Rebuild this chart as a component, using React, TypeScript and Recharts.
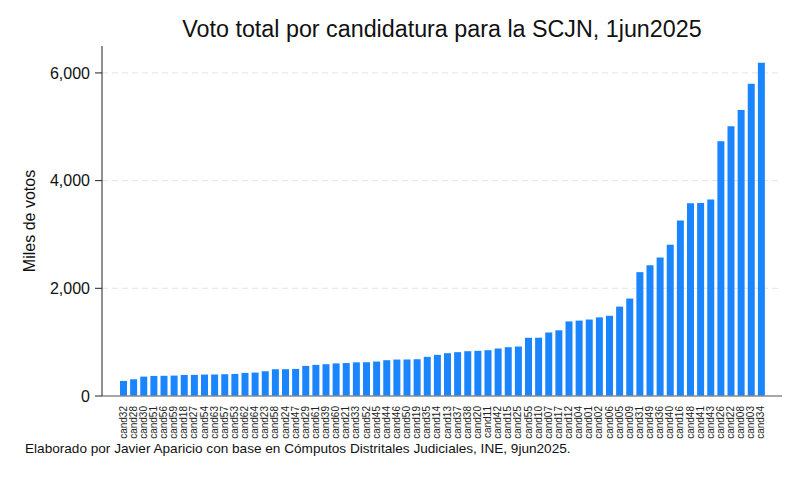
import React from 'react';
import { BarChart, Bar, XAxis, YAxis, CartesianGrid } from 'recharts';

const categories = ['cand32','cand28','cand30','cand51','cand56','cand59','cand18','cand27','cand54','cand63','cand57','cand53','cand62','cand64','cand23','cand58','cand24','cand47','cand29','cand61','cand39','cand60','cand21','cand33','cand52','cand45','cand44','cand46','cand50','cand19','cand35','cand14','cand13','cand37','cand38','cand20','cand11','cand42','cand15','cand25','cand55','cand10','cand07','cand17','cand12','cand04','cand01','cand02','cand06','cand05','cand09','cand31','cand49','cand36','cand40','cand16','cand48','cand41','cand43','cand26','cand22','cand08','cand03','cand34'];

const votes = [280,311,360,373,375,379,391,392,398,399,404,410,429,435,460,497,498,503,559,578,590,605,612,625,627,640,665,677,678,683,727,764,795,814,832,839,851,882,907,919,1081,1083,1180,1220,1385,1400,1420,1460,1490,1660,1810,2300,2430,2570,2810,3260,3580,3585,3650,4730,5010,5310,5800,6190];

const yTicks = [0, 2000, 4000, 6000];

const title = 'Voto total por candidatura para la SCJN, 1jun2025';
const yLabel = 'Miles de votos';
const note = 'Elaborado por Javier Aparicio con base en Cómputos Distritales Judiciales, INE, 9jun2025.';

const data = categories.map((c, i) => ({ name: c, value: votes[i] }));

const font = 'Arial, "Liberation Sans", sans-serif';

const XTick = (props: any) => {
  const { x, y, payload } = props;
  return (
    <text
      x={x}
      y={y}
      transform={`rotate(-90 ${x} ${y})`}
      textAnchor="end"
      dominantBaseline="central"
      fontSize={10}
      fontFamily={font}
      fill="#222"
    >
      {payload.value}
    </text>
  );
};

const YLabel = () => (
  <text
    x={35}
    y={221}
    transform="rotate(-90 35 221)"
    textAnchor="middle"
    fontSize={16}
    fontFamily={font}
    fill="#111"
  >
    {yLabel}
  </text>
);

export default function App() {
  return (
    <div style={{ position: 'absolute', left: 0, top: 0, width: 800, height: 480, background: '#fff' }}>
      <div
        style={{
          position: 'absolute',
          left: 102,
          width: 680,
          top: 14,
          textAlign: 'center',
          fontFamily: font,
          fontSize: 23.3,
          color: '#111',
          lineHeight: '30px',
          whiteSpace: 'nowrap',
        }}
      >
        {title}
      </div>
      <BarChart
        width={800}
        height={480}
        data={data}
        margin={{ top: 46, right: 18, left: 0, bottom: 34 }}
      >
        <CartesianGrid
          vertical={false}
          stroke="#e4e4e4"
          strokeDasharray="6 4"
          horizontalValues={[2000, 4000, 6000]}
        />
        <XAxis
          dataKey="name"
          interval={0}
          height={50}
          tickLine={false}
          axisLine={{ stroke: '#8a8a8a', strokeWidth: 1.5 }}
          tick={<XTick />}
          tickMargin={4}
          padding={{ left: 16, right: 16 }}
        />
        <YAxis
          width={102}
          domain={[0, 6500]}
          ticks={yTicks}
          tickFormatter={(v: number) => v.toLocaleString('en-US')}
          tick={{ fontSize: 16, fontFamily: font, fill: '#111' }}
          tickSize={7}
          tickMargin={5}
          tickLine={{ stroke: '#222' }}
          axisLine={{ stroke: '#222', strokeWidth: 1 }}
          label={{ content: <YLabel /> }}
        />
        <Bar dataKey="value" fill="#1a85ff" barSize={7} isAnimationActive={false} />
      </BarChart>
      <div
        style={{
          position: 'absolute',
          left: 25,
          top: 441,
          fontFamily: font,
          fontSize: 13.6,
          color: '#111',
          whiteSpace: 'nowrap',
          lineHeight: '16px',
        }}
      >
        {note}
      </div>
    </div>
  );
}
